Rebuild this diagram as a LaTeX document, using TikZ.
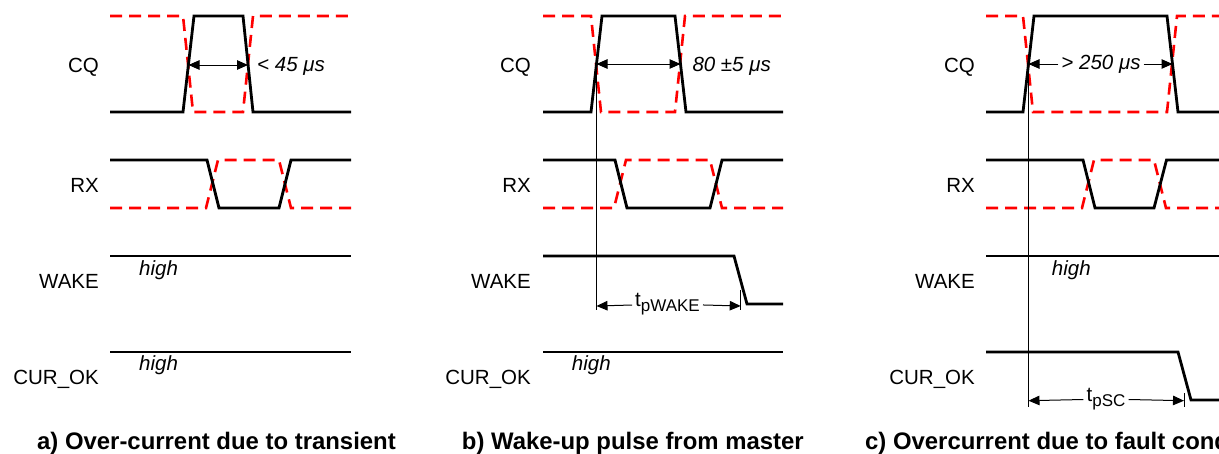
\documentclass[tikz,border=0pt]{standalone}
\usepackage{fontspec}
\setmainfont{Liberation Sans}
\usetikzlibrary{arrows.meta}
\begin{document}
\begin{tikzpicture}[x=1pt,y=-1pt,
  sig/.style={line width=2.8pt, black},
  alt/.style={line width=2.6pt, red, dash pattern=on 12pt off 7pt},
  hair/.style={line width=1pt, black},
  dimto/.style={hair, -{Triangle[length=11pt,width=9.5pt]}},
  dimboth/.style={hair, {Triangle[length=11pt,width=9.5pt]}-{Triangle[length=11pt,width=9.5pt]}},
  lab/.style={anchor=base east, inner sep=0pt, font=\fontsize{20.5}{24}\selectfont},
  ital/.style={anchor=base west, inner sep=0pt, font=\fontsize{20.5}{24}\selectfont\itshape},
  captext/.style={anchor=base west, inner sep=0pt, font=\fontsize{23.9}{28}\selectfont\bfseries},
  tlab/.style={inner sep=3pt, font=\fontsize{20.5}{24}\selectfont}
]
\useasboundingbox (0,0) rectangle (1219,453);
\clip (0,0) rectangle (1219,453);

% ---------- panel a ----------
\node[lab] (aCQ) at (99,72.5) {CQ};
\node[lab] (aRX) at (99,192.5) {RX};
\node[lab] (aWK) at (99,288.3) {WAKE};
\node[lab] (aCO) at (99,384) {CUR\_OK};
\draw[alt] (110,16) -- (183,16) -- (193,112) -- (243,112) -- (253,16) -- (351,16);
\draw[sig] (110,112) -- (183,112) -- (194,16) -- (243,16) -- (253,112) -- (351,112);
\draw[alt] (110,208) -- (206,208) -- (218,160) -- (279,160) -- (291,208) -- (351,208);
\draw[sig] (110,160) -- (207,160) -- (219,208) -- (279,208) -- (291,160) -- (351,160);
\draw[sig] (110,256) -- (351,256);
\draw[sig] (110,352) -- (351,352);
\coordinate (a1) at (188.5,65);
\coordinate (a2) at (248,65);
\draw[dimboth] (a1) -- (a2);
\node[ital] (a45) at (257,71.7) {< 45 μs};
\node[ital] (ahw) at (139,275) {high};
\node[ital] (ahc) at (139,370) {high};
\node[captext] (acap) at (37,449) {a) Over-current due to transient};

% ---------- panel b ----------
\node[lab] (bCQ) at (531,72.5) {CQ};
\node[lab] (bRX) at (531,192.5) {RX};
\node[lab] (bWK) at (531,288.3) {WAKE};
\node[lab] (bCO) at (531,384) {CUR\_OK};
\draw[alt] (543,16) -- (591,16) -- (601,112) -- (675,112) -- (685,16) -- (783,16);
\draw[sig] (543,112) -- (591,112) -- (602,16) -- (675,16) -- (686,112) -- (783,112);
\draw[alt] (543,208) -- (614,208) -- (626,160) -- (710,160) -- (722,208) -- (783,208);
\draw[sig] (543,160) -- (615,160) -- (627,208) -- (710,208) -- (722,160) -- (783,160);
\draw[sig] (543,256) -- (734,256) -- (747,304) -- (783,304);
\draw[sig] (543,352) -- (783,352);
\coordinate (b1) at (596.5,64);
\coordinate (b2) at (680.5,64);
\coordinate (b3) at (596.5,310);
\coordinate (b4) at (596.5,306);
\coordinate (b5) at (740.7,306);
\coordinate (b6) at (740.7,290);
\coordinate (b7) at (740.7,310);
\draw[hair] (b1) -- (b3);
\draw[hair] (b6) -- (b7);
\draw[dimboth] (b1) -- (b2);
\node[ital] (b80) at (692.3,71.7) {80 ±5 μs};
\node[tlab] (btw) at (667.5,304) {t\raisebox{-5pt}{\fontsize{17}{17}\selectfont pWAKE}};
\draw[dimto] (btw) -- (b4);
\draw[dimto] (btw) -- (b5);
\node[ital] (bhc) at (571.7,370) {high};
\node[captext] (bcap) at (461.7,449) {b) Wake-up pulse from master};

% ---------- panel c ----------
\node[lab] (cCQ) at (975,72.5) {CQ};
\node[lab] (cRX) at (975,192.5) {RX};
\node[lab] (cWK) at (975,288.3) {WAKE};
\node[lab] (cCO) at (975,384) {CUR\_OK};
\draw[alt] (986,16) -- (1023,16) -- (1033,112) -- (1167,112) -- (1177,16) -- (1240,16);
\draw[sig] (986,112) -- (1023,112) -- (1034,16) -- (1167,16) -- (1178,112) -- (1240,112);
\draw[alt] (986,208) -- (1082,208) -- (1094,160) -- (1154,160) -- (1166,208) -- (1240,208);
\draw[sig] (986,160) -- (1083,160) -- (1095,208) -- (1154,208) -- (1166.5,160) -- (1240,160);
\draw[sig] (986,256) -- (1240,256);
\draw[sig] (986,352) -- (1178,352) -- (1191,400) -- (1240,400);
\coordinate (c1) at (1028.5,64);
\coordinate (c2) at (1172.5,64);
\coordinate (c3) at (1028.5,407);
\coordinate (c4) at (1028.5,400.7);
\coordinate (c5) at (1184,400.7);
\coordinate (c6) at (1184,393);
\coordinate (c7) at (1184,407);
\draw[hair] (c1) -- (c3);
\draw[hair] (c6) -- (c7);
\node[tlab] (c250) at (1101,64) {\itshape > 250 μs};
\draw[dimto] (c250) -- (c1);
\draw[dimto] (c250) -- (c2);
\node[tlab] (ctsc) at (1106,399) {t\raisebox{-5pt}{\fontsize{17}{17}\selectfont pSC}};
\draw[dimto] (ctsc) -- (c4);
\draw[dimto] (ctsc) -- (c5);
\node[ital] (chw) at (1051.7,275) {high};
\node[captext] (ccap) at (865,449) {c) Overcurrent due to fault condition};
\end{tikzpicture}
\end{document}
